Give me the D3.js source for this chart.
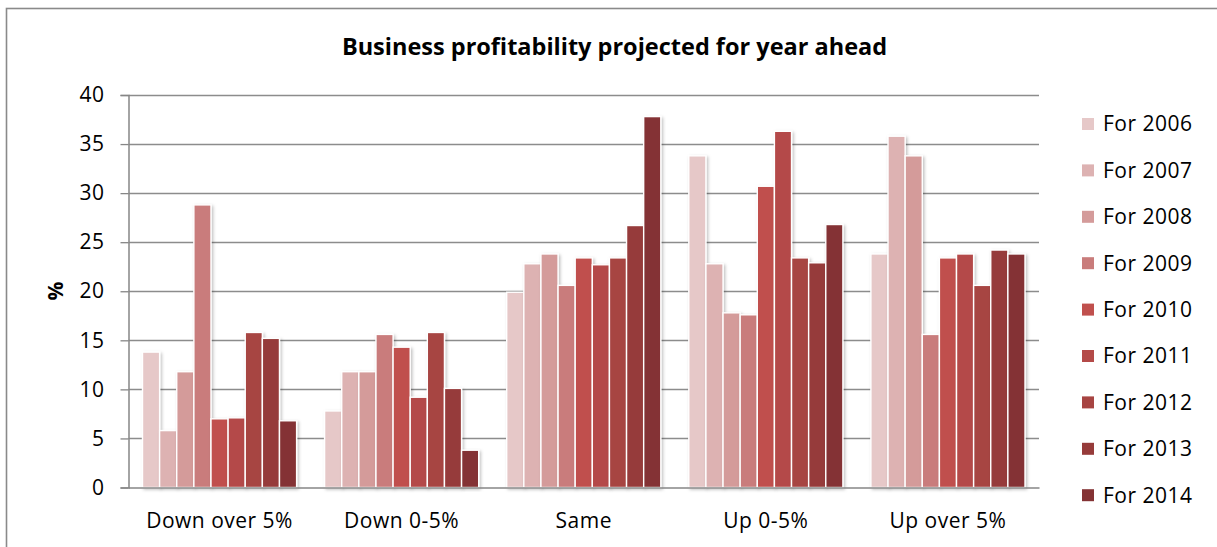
<!DOCTYPE html>
<html>
<head>
<meta charset="utf-8">
<script src="https://cdn.jsdelivr.net/npm/d3@7"></script>
<style>
  html, body { margin: 0; padding: 0; background: #fff; }
  svg { display: block; font-family: "Open Sans", "Noto Sans", sans-serif; }
</style>
</head>
<body>
<svg id="chart" width="1217" height="547"></svg>
<script>
// Outcome categories along the x axis
const categories = ["Down over 5%", "Down 0-5%", "Same", "Up 0-5%", "Up over 5%"];
// Survey years (one bar per year within each category)
const seriesNames = ["For 2006", "For 2007", "For 2008", "For 2009", "For 2010",
                     "For 2011", "For 2012", "For 2013", "For 2014"];
// Percent of businesses, one array per year, in category order
const for2006 = [13.8, 7.8, 19.9, 33.8, 23.8];
const for2007 = [5.8, 11.8, 22.8, 22.8, 35.8];
const for2008 = [11.8, 11.8, 23.8, 17.8, 33.8];
const for2009 = [28.8, 15.6, 20.6, 17.6, 15.6];
const for2010 = [7.0, 14.3, 23.4, 30.7, 23.4];
const for2011 = [7.1, 9.2, 22.7, 36.3, 23.8];
const for2012 = [15.8, 15.8, 23.4, 23.4, 20.6];
const for2013 = [15.2, 10.1, 26.7, 22.9, 24.2];
const for2014 = [6.8, 3.8, 37.8, 26.8, 23.8];
const seriesValues = [for2006, for2007, for2008, for2009, for2010, for2011, for2012, for2013, for2014];
// Y axis ticks
const yTicks = [0, 5, 10, 15, 20, 25, 30, 35, 40];

const colors = ["#E6C8C8", "#DDB2B2", "#D49B9A", "#C97C7B", "#C0504D",
                "#B44A48", "#A74442", "#963B3A", "#843234"];

const labelSize = 21;
const labelSpacing = "0.5px";

const svg = d3.select("#chart");

// Drop shadow used on the bars
const defs = svg.append("defs");
const f = defs.append("filter").attr("id", "shadow")
  .attr("x", "-20%").attr("y", "-5%").attr("width", "150%").attr("height", "115%");
f.append("feDropShadow").attr("dx", 1.5).attr("dy", 1.5).attr("stdDeviation", 1.6)
  .attr("flood-color", "#000").attr("flood-opacity", 0.25);

// Outer frame
svg.append("rect").attr("x", 6.5).attr("y", 8.5).attr("width", 1230).attr("height", 560)
  .attr("fill", "none").attr("stroke", "#8a8a8a").attr("stroke-width", 1.6);

const plot = { left: 128.5, right: 1039, top: 95, bottom: 487.5 };

const y = d3.scaleLinear().domain([0, 40]).range([plot.bottom, plot.top]);
const x0 = d3.scaleBand().domain(categories).range([plot.left, plot.right]).padding(0);
const inset = 14;
const x1 = d3.scaleBand().domain(seriesNames)
  .range([inset, x0.bandwidth() - inset]).padding(0);

// Gridlines
svg.append("g").selectAll("line").data(yTicks.filter(d => d > 0)).join("line")
  .attr("x1", plot.left).attr("x2", plot.right)
  .attr("y1", d => Math.round(y(d)) + 0.5).attr("y2", d => Math.round(y(d)) + 0.5)
  .attr("stroke", "#8c8c8c").attr("stroke-width", 1.3);

// Y axis
const yAxis = d3.axisLeft(y).tickValues(yTicks).tickSize(8).tickPadding(16);
const gy = svg.append("g").attr("transform", `translate(${plot.left},0)`).call(yAxis);
gy.select(".domain").attr("stroke", "#868686").attr("stroke-width", 1.5);
gy.selectAll(".tick line").attr("stroke", "#868686").attr("stroke-width", 1.3);
gy.selectAll(".tick text").attr("font-size", labelSize).attr("fill", "#000")
  .attr("letter-spacing", labelSpacing)
  .attr("font-family", "'Open Sans', sans-serif");

// Bars
const groups = svg.append("g").selectAll("g").data(categories).join("g")
  .attr("transform", d => `translate(${x0(d)},0)`);
groups.selectAll("rect")
  .data((c, ci) => seriesNames.map((s, si) => ({ s, si, v: seriesValues[si][ci] })))
  .join("rect")
  .attr("x", d => x1(d.s))
  .attr("y", d => y(d.v))
  .attr("width", x1.bandwidth())
  .attr("height", d => y(0) - y(d.v))
  .attr("fill", d => colors[d.si])
  .attr("stroke", "#fff").attr("stroke-width", 1.4)
  .attr("filter", "url(#shadow)");

// X axis
const xAxis = d3.axisBottom(x0).tickSize(0).tickPadding(26);
const gx = svg.append("g").attr("transform", `translate(0,${plot.bottom})`).call(xAxis);
gx.select(".domain").attr("stroke", "#868686").attr("stroke-width", 1.5);
gx.selectAll(".tick text").attr("font-size", labelSize).attr("fill", "#000")
  .attr("letter-spacing", labelSpacing)
  .attr("font-family", "'Open Sans', sans-serif");

// Title
svg.append("text").attr("x", 614.5).attr("y", 55).attr("text-anchor", "middle")
  .attr("font-size", 23.5).attr("font-weight", "bold").attr("fill", "#000")
  .text("Business profitability projected for year ahead");

// Y axis title
svg.append("text").attr("transform", "translate(63,291) rotate(-90)")
  .attr("text-anchor", "middle").attr("font-size", labelSize).attr("font-weight", "bold")
  .text("%");

// Legend
const legend = svg.append("g").selectAll("g").data(seriesNames).join("g")
  .attr("transform", (d, i) => `translate(1082,${124 + i * 46.4})`);
legend.append("rect").attr("x", 0).attr("y", -6).attr("width", 12).attr("height", 12)
  .attr("fill", (d, i) => colors[i]);
legend.append("text").attr("x", 21).attr("y", 0).attr("dy", "0.35em")
  .attr("font-size", labelSize).attr("letter-spacing", labelSpacing)
  .attr("fill", "#000").text(d => d);
</script>
</body>
</html>
